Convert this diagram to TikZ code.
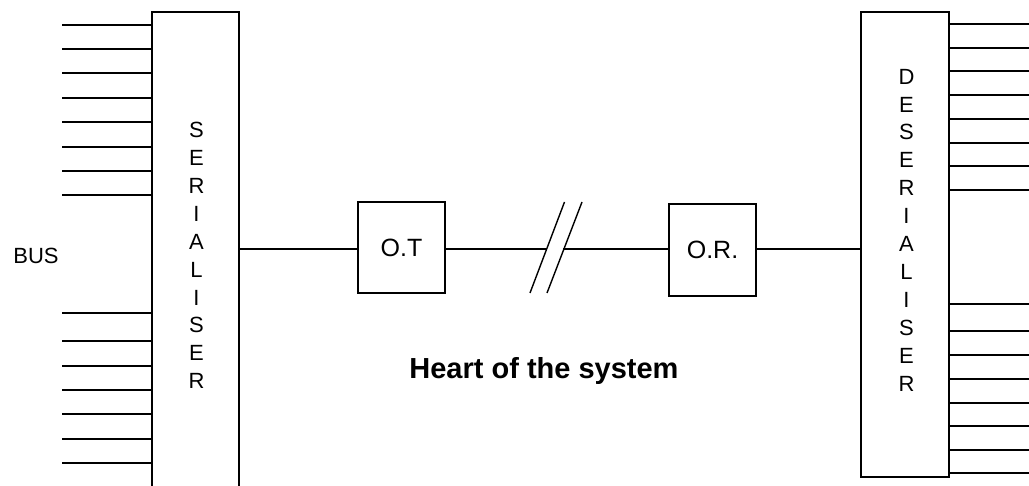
\documentclass[tikz,border=0pt]{standalone}
\usepackage{fontspec}
\setmainfont{Liberation Sans}
\begin{document}
\begin{tikzpicture}[x=1pt,y=-1pt,
  ln/.style={line width=1.4pt,line cap=rect},
  block/.style={draw,line width=1.4pt,inner sep=0pt,fill=none},
  vtext/.style={align=center,inner sep=0pt,font=\fontsize{22}{27.9}\selectfont},
  lbl/.style={inner sep=0pt,font=\fontsize{22}{26}\selectfont},
  boxlbl/.style={font=\fontsize{25}{30}\selectfont}]
\useasboundingbox (0,0) rectangle (1029,486);
\clip (0,0) rectangle (1029,486);
% main blocks
\node[block,minimum width=87pt,minimum height=488pt] (ser) at (195.5,256) {};
\node[block,minimum width=88pt,minimum height=465pt] (des) at (905,244.5) {};
\node[block,minimum width=87pt,minimum height=91pt,boxlbl] (ot) at (401.5,247.5) {O.T};
\node[block,minimum width=87pt,minimum height=92pt,boxlbl] (or) at (712.5,250) {O.R.};
% vertical labels
\node[vtext] (sertext) at (196.5,255.5) {S\\E\\R\\I\\A\\L\\I\\S\\E\\R};
\node[vtext] (destext) at (906.5,230) {D\\E\\S\\E\\R\\I\\A\\L\\I\\S\\E\\R};
\node[lbl] (bus) at (36,256) {BUS};
\node[inner sep=0pt,font=\fontsize{29}{34}\selectfont\bfseries] (heart) at (544,371) {Heart of the system};
% left bus lines
\foreach \y [count=\i] in {25,49,73,98,122,147,171,195,313,341,366,390,414,439,463}{
  \coordinate (lb\i) at (63,\y);
  \draw[ln] (lb\i) -- (lb\i -| ser.west);
}
% right bus lines
\foreach \y [count=\i] in {24,48,71,95,119,143,166,190,304,331,355,379,403,426,450,473}{
  \coordinate (rb\i) at (1035,\y);
  \draw[ln] (rb\i -| des.east) -- (rb\i);
}
% middle link
\coordinate (mid) at (0,249);
\coordinate (s1a) at (530,293);
\coordinate (s1b) at (564.5,202);
\coordinate (s2a) at (547,293);
\coordinate (s2b) at (582,202);
\coordinate (c1) at (546.5,249);
\coordinate (c2) at (564,249);
\draw[ln] (ser.east |- mid) -- (ot.west |- mid);
\draw[ln] (ot.east |- mid) -- (c1);
\draw[ln] (c2) -- (or.west |- mid);
\draw[ln] (or.east |- mid) -- (des.west |- mid);
\draw[line width=1.4pt] (s1a) -- (s1b);
\draw[line width=1.4pt] (s2a) -- (s2b);
\end{tikzpicture}
\end{document}
